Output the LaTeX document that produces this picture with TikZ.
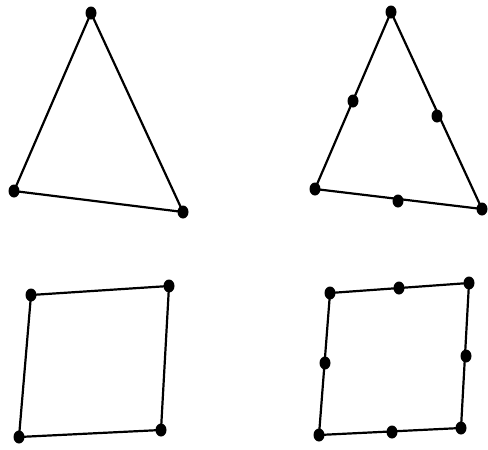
\documentclass[tikz,border=0pt]{standalone}
\usetikzlibrary{shapes.geometric}
\begin{document}
\begin{tikzpicture}[x=1pt,y=-1pt,
  dot/.style={ellipse,fill=black,draw=none,inner sep=0pt,minimum width=11pt,minimum height=13pt},
  edge/.style={line width=2.2pt,black}]
\useasboundingbox (0,0) rectangle (488,450);
% Triangle 1
\node[dot] (a1) at (91,13) {};
\node[dot] (a2) at (14,191) {};
\node[dot] (a3) at (183,212) {};
\draw[edge] (a1.center) -- (a2.center) -- (a3.center) -- cycle;
% Triangle 2
\node[dot] (b1) at (391,12) {};
\node[dot] (b2) at (315,189) {};
\node[dot] (b3) at (482,209) {};
\node[dot] (b12) at (353,101) {};
\node[dot] (b13) at (437,116) {};
\node[dot] (b23) at (398,201) {};
\draw[edge] (b1.center) -- (b2.center) -- (b3.center) -- cycle;
% Quad 1
\node[dot] (c1) at (31,295) {};
\node[dot] (c2) at (169,286) {};
\node[dot] (c3) at (161,430) {};
\node[dot] (c4) at (19,437) {};
\draw[edge] (c1.center) -- (c2.center) -- (c3.center) -- (c4.center) -- cycle;
% Quad 2
\node[dot] (d1) at (330,293) {};
\node[dot] (d2) at (469,283) {};
\node[dot] (d3) at (461,428) {};
\node[dot] (d4) at (319,435) {};
\node[dot] (d12) at (399,288) {};
\node[dot] (d23) at (466,356) {};
\node[dot] (d34) at (392,432) {};
\node[dot] (d41) at (325,363) {};
\draw[edge] (d1.center) -- (d2.center) -- (d3.center) -- (d4.center) -- cycle;
\end{tikzpicture}
\end{document}
